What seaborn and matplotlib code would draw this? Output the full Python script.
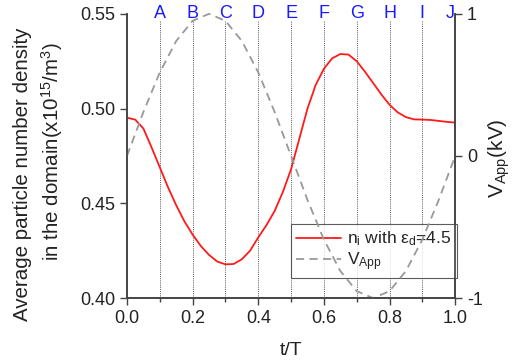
import numpy as np
import pandas as pd
import seaborn as sns
import matplotlib
matplotlib.use("Agg")
import matplotlib.pyplot as plt

sns.set_theme(style="ticks")
plt.rcParams["font.family"] = ["Liberation Sans", "DejaVu Sans"]
plt.rcParams["mathtext.fontset"] = "custom"
plt.rcParams["mathtext.rm"] = "Liberation Sans"
plt.rcParams["mathtext.it"] = "Liberation Sans"

# ion density over one period
t_ni = [0.0, 0.025, 0.05, 0.075, 0.1, 0.125, 0.15, 0.175, 0.2, 0.225, 0.25,
        0.275, 0.3, 0.325, 0.35, 0.375, 0.4, 0.425, 0.45, 0.475, 0.5, 0.525,
        0.55, 0.575, 0.6, 0.625, 0.65, 0.675, 0.7, 0.725, 0.75, 0.775, 0.8,
        0.825, 0.85, 0.875, 0.9, 0.925, 0.95, 0.975, 1.0]
n_i = [0.4952, 0.4942, 0.4895, 0.4795, 0.4690, 0.4585, 0.4490, 0.4405, 0.4335,
       0.4275, 0.4228, 0.4193, 0.4178, 0.4180, 0.4205, 0.4250, 0.4320, 0.4385,
       0.4460, 0.4560, 0.4680, 0.4840, 0.5000, 0.5125, 0.5210, 0.5265, 0.5288,
       0.5285, 0.5250, 0.5195, 0.5135, 0.5075, 0.5020, 0.4980, 0.4955, 0.4943,
       0.4942, 0.4940, 0.4935, 0.4930, 0.4926]

# applied voltage (kV)
t_v = [0.0, 0.05, 0.1, 0.15, 0.2, 0.25, 0.3, 0.35, 0.4, 0.45, 0.5, 0.55, 0.6,
       0.65, 0.7, 0.75, 0.8, 0.85, 0.9, 0.95, 1.0]
v_app = [0.0, 0.309, 0.588, 0.809, 0.951, 1.0, 0.951, 0.809, 0.588, 0.309, 0.0,
         -0.309, -0.588, -0.809, -0.951, -1.0, -0.951, -0.809, -0.588, -0.309, 0.0]

phase_labels = ["A", "B", "C", "D", "E", "F", "G", "H", "I", "J"]
phase_t = [0.1, 0.2, 0.3, 0.4, 0.5, 0.6, 0.7, 0.8, 0.9, 1.0]

df_ni = pd.DataFrame({"t": t_ni, "n": n_i})
df_v = pd.DataFrame({"t": t_v, "v": v_app})

W, H = 512, 364
fig = plt.figure(figsize=(W / 100, H / 100), dpi=100)
ax = fig.add_axes([0.248, 0.181, 0.641, 0.781])
ax2 = ax.twinx()

axis_color = "#444444"
text_color = "#222222"
fs_tick = 13

# phase markers
for tv in phase_t[:-1]:
    ax.axvline(tv, ymin=0, ymax=0.975, color="#555555", lw=0.7, ls=(0, (1, 1.2)), zorder=1)
for lab, tv in zip(phase_labels, phase_t):
    xpos = tv if tv < 1.0 else 0.985
    ax.text(xpos, 1.0, lab, transform=ax.get_xaxis_transform(), ha="center", va="center",
            color="#1a1aff", fontsize=13, zorder=5)

ni_label = r"n$_\mathregular{i}$ with ε$_\mathregular{d}$=4.5"
v_label = r"V$_\mathregular{App}$"

sns.lineplot(data=df_ni, x="t", y="n", ax=ax, color="#ff1a1a", lw=1.3, zorder=3,
             label=ni_label, legend=False)
sns.lineplot(data=df_v, x="t", y="v", ax=ax2, color="#999999", lw=1.3, zorder=2,
             label=v_label, legend=False)
ax2.lines[0].set_dashes((4.5, 3))
ax2.lines[0].set_clip_on(False)

ax.set_xlim(0, 1.0)
ax.set_ylim(0.40, 0.55)
ax2.set_ylim(-1, 1)
ax.set_xticks([0.0, 0.2, 0.4, 0.6, 0.8, 1.0])
ax.set_xticks([0.1, 0.3, 0.5, 0.7, 0.9], minor=True)
ax.set_yticks([0.40, 0.45, 0.50, 0.55])
ax2.set_yticks([-1, 0, 1])
ax2.set_yticklabels(["-1", "0", "1"])
ax.xaxis.set_major_formatter(matplotlib.ticker.FormatStrFormatter("%.1f"))
ax.yaxis.set_major_formatter(matplotlib.ticker.FormatStrFormatter("%.2f"))

ax.set_xlabel("t/T", fontsize=14, color=text_color, labelpad=11)
ax.set_ylabel("")
ax2.set_ylabel("")

# axis titles, placed in figure pixels
fig.text(23 / W, 1 - 174 / H, "Average particle number density", rotation=90,
         ha="center", va="center", fontsize=14.8, color=text_color)
fig.text(52 / W, 1 - 152 / H,
         "in the domain(x10$^{\\mathregular{15}}$/m$^{\\mathregular{3}}$)", rotation=90,
         ha="center", va="center", fontsize=14.8, color=text_color)
fig.text(499 / W, 1 - 158 / H, v_label + "(kV)", rotation=90,
         ha="center", va="center", fontsize=15, color=text_color)

for a in (ax, ax2):
    a.spines["top"].set_visible(False)
    for side in ("left", "right", "bottom"):
        a.spines[side].set_color(axis_color)
        a.spines[side].set_linewidth(1.2)
    a.tick_params(axis="both", which="major", labelsize=fs_tick, length=5, width=1.0,
                  color=axis_color, labelcolor=text_color)
    a.tick_params(axis="both", which="minor", length=3, width=1.0, color=axis_color)

leg = ax.legend(handles=[ax.lines[-1], ax2.lines[0]], labels=[ni_label, v_label],
                loc="lower right", bbox_to_anchor=(1.005, 0.07), borderaxespad=0,
                fontsize=12.5, frameon=True, fancybox=False, handlelength=2.6,
                borderpad=0.3, labelspacing=0.12, handletextpad=0.35)
leg.get_frame().set_edgecolor("#333333")
leg.get_frame().set_linewidth(0.8)
leg.set_zorder(10)

fig.savefig("out.png", dpi=100)
